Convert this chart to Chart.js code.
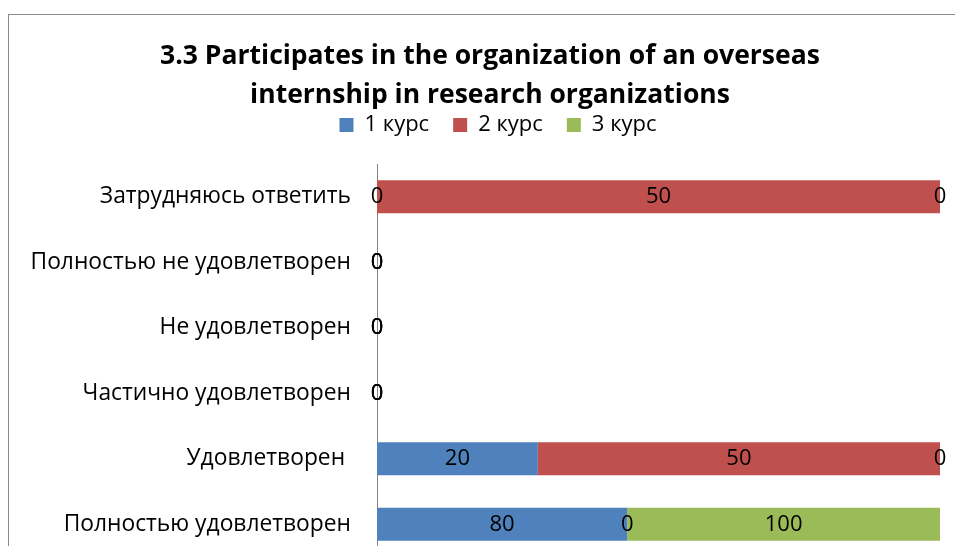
<!DOCTYPE html>
<html>
<head>
<meta charset="utf-8">
<script src="https://cdn.jsdelivr.net/npm/chart.js@4/dist/chart.umd.min.js"></script>
<style>
  html, body { margin: 0; padding: 0; background: #fff; overflow: hidden; }
  .frame { position: absolute; left: 8px; top: 14px; width: 1000px; height: 600px; border: 1px solid #8a8a8a; }
  #bars { position: absolute; left: 0; top: 0; }
</style>
</head>
<body>
<div class="frame"><canvas id="bars" width="952" height="542"></canvas></div>
<script>
// answer categories, top to bottom
var categories = [
  'Затрудняюсь ответить',
  'Полностью не удовлетворен',
  'Не удовлетворен',
  'Частично удовлетворен',
  'Удовлетворен ',
  'Полностью удовлетворен'
];
var seriesNames = ['1 курс', '2 курс', '3 курс'];
var course1 = [0, 0, 0, 0, 20, 80];
var course2 = [50, 0, 0, 0, 50, 0];
var course3 = [0, 0, 0, 0, 0, 100];
var colors = ['#4F81BD', '#C0504D', '#9BBB59'];

var FONT = "'Open Sans', 'Noto Sans', sans-serif";
var series = [course1, course2, course3];

// 100% stacked: every row is scaled to its own total
var totals = categories.map(function (c, i) {
  return course1[i] + course2[i] + course3[i];
});
var datasets = series.map(function (values, k) {
  return {
    label: seriesNames[k],
    data: values.map(function (v, i) {
      return totals[i] ? v / totals[i] * 100 : 0;
    }),
    raw: values,
    backgroundColor: colors[k],
    borderWidth: 0,
    barPercentage: 0.505,
    categoryPercentage: 1
  };
});

// draws the raw value in the middle of each segment (zeros too)
var valueLabels = {
  id: 'valueLabels',
  afterDatasetsDraw: function (chart) {
    var ctx = chart.ctx;
    ctx.save();
    ctx.font = '22px ' + FONT;
    ctx.fillStyle = '#000';
    ctx.textAlign = 'center';
    ctx.textBaseline = 'middle';
    chart.data.datasets.forEach(function (ds, k) {
      chart.getDatasetMeta(k).data.forEach(function (bar, i) {
        var p = bar.getCenterPoint();
        ctx.fillText(String(ds.raw[i]), p.x, p.y);
      });
    });
    ctx.restore();
  }
};

// legend sits a little right of the title's centre in the original
var legendNudge = {
  id: 'legendNudge',
  afterLayout: function (chart) {
    chart.legend.left += 8;
    chart.legend.right += 8;
  }
};

new Chart(document.getElementById('bars'), {
  type: 'bar',
  data: { labels: categories, datasets: datasets },
  plugins: [valueLabels, legendNudge],
  options: {
    indexAxis: 'y',
    responsive: false,
    animation: false,
    layout: { padding: { left: 10, right: 0, top: 0, bottom: 0 } },
    plugins: {
      title: {
        display: true,
        text: ['3.3 Participates in the organization of an overseas', 'internship in research organizations'],
        color: '#000',
        font: { family: FONT, size: 26.5, weight: 'bold', lineHeight: 39 / 26.5 },
        padding: { top: 22, bottom: -25 }
      },
      legend: {
        position: 'top',
        labels: {
          color: '#000',
          font: { family: FONT, size: 22 },
          boxWidth: 14,
          boxHeight: 14,
          padding: 24
        }
      },
      tooltip: { enabled: false }
    },
    scales: {
      x: {
        stacked: true,
        min: 0,
        max: 100,
        position: 'top',
        grid: { display: false, drawTicks: false },
        border: { display: false },
        ticks: { display: false },
        // empty strip between legend and plot
        afterFit: function (scale) {
          scale.height = 18;
          scale.paddingLeft = 0;
          scale.paddingRight = 0;
        }
      },
      y: {
        stacked: true,
        grid: { display: false, drawTicks: false },
        border: { display: true, color: '#868686', width: 1 },
        ticks: {
          color: '#000',
          font: { family: FONT, size: 22.8 },
          padding: 26
        },
        afterFit: function (scale) {
          scale.width = 358;
          scale.paddingTop = 0;
          scale.paddingBottom = 0;
        }
      },
      // blank margin on the right of the plot
      yRight: {
        type: 'category',
        position: 'right',
        grid: { display: false, drawTicks: false },
        border: { display: false },
        ticks: { display: false },
        afterFit: function (scale) {
          scale.width = 21;
          scale.paddingTop = 0;
          scale.paddingBottom = 0;
        }
      }
    }
  }
});
</script>
</body>
</html>
